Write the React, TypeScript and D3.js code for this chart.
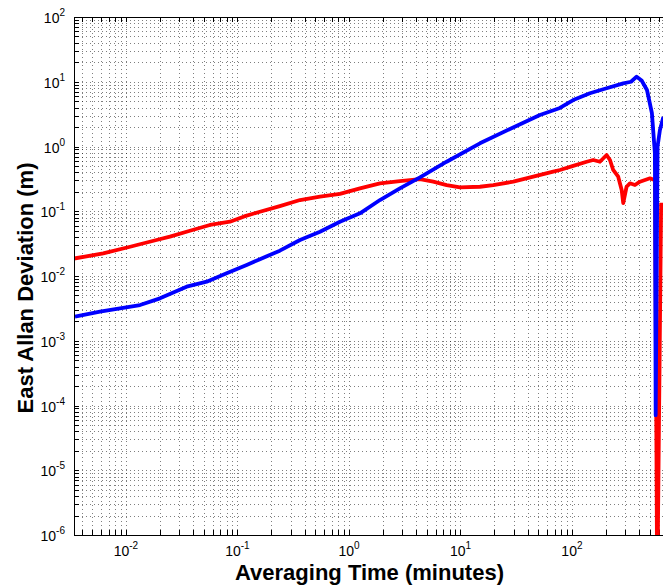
import React from 'react';
import * as d3 from 'd3';

// ---- data (tau in minutes, Allan deviation in metres) ----
const redTau = [0.00342, 0.00625, 0.0109, 0.0188, 0.0248, 0.0375, 0.0566, 0.0857, 0.115, 0.159, 0.240, 0.364, 0.550, 0.830, 1.256, 1.897, 2.864, 4.335, 5.70, 7.52, 9.91, 14.96, 19.68, 29.8, 45.0, 67.9, 78.0, 102.6, 135.5, 155.2, 178.2, 204.6, 219.3, 234.4, 260.0, 279.3, 288.4, 309.0, 331.1, 367.3, 407.4, 451.9, 501.2, 555.9, 582.1, 631.0];
const redAdev = [0.0186, 0.0224, 0.0283, 0.0360, 0.0405, 0.0500, 0.0614, 0.0690, 0.0832, 0.0984, 0.120, 0.149, 0.168, 0.185, 0.226, 0.270, 0.293, 0.313, 0.286, 0.254, 0.234, 0.239, 0.254, 0.286, 0.342, 0.408, 0.434, 0.501, 0.582, 0.619, 0.582, 0.740, 0.619, 0.434, 0.342, 0.213, 0.134, 0.239, 0.270, 0.254, 0.286, 0.304, 0.323, 0.302, 1e-7, 0.135];

const blueTau = [0.00349, 0.00585, 0.00883, 0.01337, 0.0202, 0.0350, 0.0530, 0.0800, 0.121, 0.159, 0.240, 0.364, 0.550, 0.830, 1.256, 1.897, 2.864, 4.335, 7.52, 14.96, 27.8, 51.6, 78.0, 102.6, 144.9, 204.6, 288.4, 338.8, 380.2, 421.7, 471.0, 521.2, 554.6, 563.6, 586.1, 615.2, 660.7];
const blueAdev = [0.00235, 0.00281, 0.00317, 0.00356, 0.00452, 0.00684, 0.00817, 0.0110, 0.0148, 0.0182, 0.0246, 0.0360, 0.0483, 0.0690, 0.0929, 0.149, 0.226, 0.334, 0.582, 1.119, 1.862, 3.069, 3.936, 5.224, 6.637, 7.925, 9.46, 10.0, 11.97, 10.47, 7.46, 3.29, 0.794, 7.08e-5, 1.0, 1.80, 2.86];

const xTickExps = [-2, -1, 0, 1, 2];
const yTickExps = [-6, -5, -4, -3, -2, -1, 0, 1, 2];

const xTitle = 'Averaging Time (minutes)';
const yTitle = 'East Allan Deviation (m)';

const W = 663;
const H = 588;
const L = 74;
const T = 17;
const B = 535;
const R = 665.6;
const FONT = 'Liberation Sans, Arial, Helvetica, sans-serif';

export default function App() {
  const x = d3.scaleLog().domain([Math.pow(10, -2.466), Math.pow(10, 2.84)]).range([L, R]);
  const y = d3.scaleLog().domain([1e-6, 1e2]).range([B, T]);

  const [x0, x1] = x.domain();
  const xGrid: number[] = [];
  for (let k = -3; k <= 3; k++) {
    for (let m = 1; m <= 9; m++) {
      const v = m * Math.pow(10, k);
      if (v >= x0 && v <= x1) xGrid.push(v);
    }
  }
  const yGrid: number[] = [];
  for (let k = -6; k <= 1; k++) {
    for (let m = 1; m <= 9; m++) {
      const v = m * Math.pow(10, k);
      if (v > 1e-6 && v < 1e2) yGrid.push(v);
    }
  }

  const line = d3.line<[number, number]>().x(d => x(d[0])).y(d => y(d[1]));
  const redPath = line(redTau.map((t, i) => [t, redAdev[i]] as [number, number])) || '';
  const bluePath = line(blueTau.map((t, i) => [t, blueAdev[i]] as [number, number])) || '';

  const px = (v: number) => Math.round(v) + 0.5;

  return (
    <svg width={W} height={H} style={{ position: 'absolute', left: 0, top: 0, background: '#fff' }} fontFamily={FONT}>
      <defs>
        <clipPath id="plot">
          <rect x={L} y={T} width={R - L} height={B - T} />
        </clipPath>
      </defs>
      <rect x={0} y={0} width={W} height={H} fill="#fff" />
      {/* grid */}
      <g stroke="#000" strokeOpacity={0.5} strokeWidth={1} strokeDasharray="1 3">
        {xGrid.map((v, i) => (
          <line key={'gx' + i} x1={px(x(v))} x2={px(x(v))} y1={T} y2={B} />
        ))}
        {yGrid.map((v, i) => (
          <line key={'gy' + i} x1={L} x2={W} y1={px(y(v))} y2={px(y(v))} />
        ))}
      </g>
      {/* ticks */}
      <g stroke="#000" strokeWidth={1}>
        {xGrid.map((v, i) => (
          <g key={'tx' + i}>
            <line x1={px(x(v))} x2={px(x(v))} y1={B} y2={B - 5} />
            <line x1={px(x(v))} x2={px(x(v))} y1={T} y2={T + 5} />
          </g>
        ))}
        {yGrid.map((v, i) => (
          <line key={'ty' + i} x1={L} x2={L + 5} y1={px(y(v))} y2={px(y(v))} />
        ))}
      </g>
      {/* series */}
      <g clipPath="url(#plot)" fill="none" strokeWidth={3.8} strokeLinejoin="round">
        <path d={redPath} stroke="#f00" />
        <path d={bluePath} stroke="#00f" />
      </g>
      {/* axes box */}
      <g stroke="#000" strokeWidth={1} fill="none">
        <line x1={L} x2={W} y1={px(T)} y2={px(T)} />
        <line x1={L} x2={W} y1={px(B)} y2={px(B)} />
        <line x1={px(L)} x2={px(L)} y1={T} y2={B + 0.5} />
      </g>
      {/* tick labels */}
      <g fill="#000" fontSize={14}>
        {xTickExps.map(e => (
          <text key={'xl' + e} x={x(Math.pow(10, e))} y={556} textAnchor="middle">
            10<tspan dy={-7} fontSize={10}>{String(e)}</tspan>
          </text>
        ))}
        {yTickExps.map(e => (
          <text key={'yl' + e} x={65} y={y(Math.pow(10, e)) + 6} textAnchor="end">
            10<tspan dy={-7} fontSize={10}>{String(e)}</tspan>
          </text>
        ))}
      </g>
      {/* titles */}
      <text x={369.5} y={580} textAnchor="middle" fontSize={22} fontWeight="bold" fill="#000">{xTitle}</text>
      <text transform="translate(33,288) rotate(-90)" textAnchor="middle" fontSize={22} fontWeight="bold" fill="#000">{yTitle}</text>
    </svg>
  );
}
